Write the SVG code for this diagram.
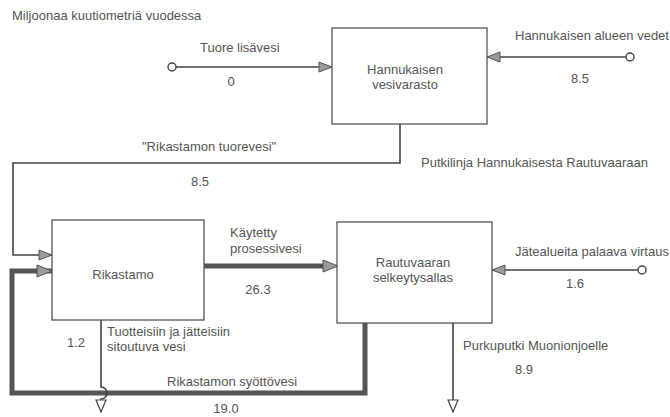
<svg xmlns="http://www.w3.org/2000/svg" width="670" height="417" viewBox="0 0 670 417">
<defs>
<style>
text{font-family:"Liberation Sans",Arial,sans-serif;font-size:13px;fill:#555}
.box{fill:#fff;stroke:#555;stroke-width:1.3}
.thin{fill:none;stroke:#444;stroke-width:1.6}
.thick{fill:none;stroke:#555;stroke-width:5}
.src{fill:#fff;stroke:#444;stroke-width:1.4}
.mid{text-anchor:middle}
</style>
<marker id="ah" markerUnits="userSpaceOnUse" markerWidth="16" markerHeight="14" refX="14" refY="6" orient="auto">
<path d="M1,1 L14,6 L1,11 Z" fill="#9a9a9a" stroke="#555" stroke-width="1"/>
</marker>
<marker id="ahb" markerUnits="userSpaceOnUse" markerWidth="18" markerHeight="16" refX="16" refY="7" orient="auto">
<path d="M1,1 L16,7 L1,13 Z" fill="#9a9a9a" stroke="#555" stroke-width="1"/>
</marker>
<marker id="ho" markerUnits="userSpaceOnUse" markerWidth="16" markerHeight="14" refX="13" refY="6" orient="auto">
<path d="M1,1 L13,6 L1,11 Z" fill="#fff" stroke="#444" stroke-width="1.2"/>
</marker>
</defs>

<text x="12" y="20">Miljoonaa kuutiometriä vuodessa</text>

<g id="connectors">
<g id="tuore">
<line class="thin" x1="176" y1="67" x2="332" y2="67" marker-end="url(#ah)"/>
<circle class="src" cx="172" cy="67" r="4"/>
<text x="200" y="52">Tuore lisävesi</text>
<text class="mid" x="231" y="86">0</text>
</g>
<g id="hannukaisen-alue">
<line class="thin" x1="626" y1="57" x2="487" y2="57" marker-end="url(#ah)"/>
<circle class="src" cx="630" cy="57" r="4"/>
<text x="515" y="40">Hannukaisen alueen vedet</text>
<text class="mid" x="580" y="83">8.5</text>
</g>
<g id="tuorevesi">
<path class="thin" d="M400,124 V163 H13 V255 H52" marker-end="url(#ah)"/>
<text x="142" y="151">"Rikastamon tuorevesi"</text>
<text class="mid" x="200" y="186">8.5</text>
<text x="421" y="167">Putkilinja Hannukaisesta Rautuvaaraan</text>
</g>
<g id="syottovesi">
<path class="thick" d="M365,323 V393 H12 V271 H38"/>
<line class="thick" x1="36" y1="271" x2="52" y2="271" stroke-width="1" marker-end="url(#ahb)"/>
<text x="167" y="386">Rikastamon syöttövesi</text>
<text class="mid" x="226" y="413">19.0</text>
</g>
<g id="kaytetty">
<line class="thick" x1="204" y1="266" x2="326" y2="266"/>
<line class="thin" x1="320" y1="266" x2="338" y2="266" marker-end="url(#ahb)"/>
<text x="230" y="237">Käytetty</text>
<text x="230" y="253">prosessivesi</text>
<text class="mid" x="258" y="294">26.3</text>
</g>
<g id="jatealue">
<line class="thin" x1="638" y1="270" x2="492" y2="270" marker-end="url(#ah)"/>
<circle class="src" cx="642" cy="270" r="4"/>
<text x="515" y="256">Jätealueita palaava virtaus</text>
<text class="mid" x="575" y="288">1.6</text>
</g>
<g id="purku">
<line class="thin" x1="453" y1="323" x2="453" y2="412" marker-end="url(#ho)"/>
<text x="463" y="350">Purkuputki Muonionjoelle</text>
<text class="mid" x="524" y="374">8.9</text>
</g>
<g id="tuotteisiin">
<path class="thin" d="M101,320 V387 A6,6 0 0 1 101,399 V412" stroke-width="1.2" marker-end="url(#ho)"/>
<text x="107" y="336">Tuotteisiin ja jätteisiin</text>
<text x="107" y="351">sitoutuva vesi</text>
<text class="mid" x="76" y="347">1.2</text>
</g>
</g>

<g id="hannukaisen-vesivarasto">
<rect class="box" x="332" y="28" width="155" height="96"/>
<text class="mid" x="405" y="74">Hannukaisen</text>
<text class="mid" x="405" y="89">vesivarasto</text>
</g>
<g id="rikastamo">
<rect class="box" x="52" y="220" width="152" height="100" stroke="#888"/>
<text class="mid" x="123" y="279">Rikastamo</text>
</g>
<g id="rautuvaaran-selkeytysallas">
<rect class="box" x="337" y="222" width="155" height="101"/>
<text class="mid" x="413" y="267">Rautuvaaran</text>
<text class="mid" x="413" y="282">selkeytysallas</text>
</g>
</svg>
